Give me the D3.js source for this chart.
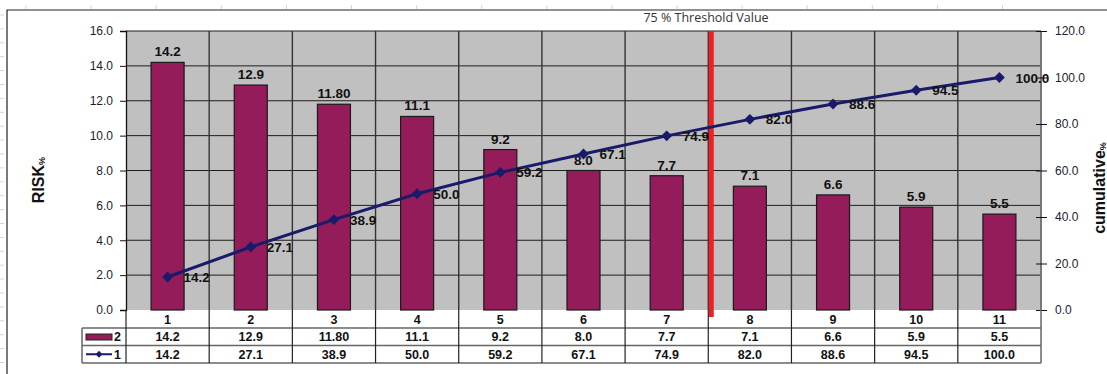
<!DOCTYPE html>
<html lang="en">
    <head>
        <meta charset="UTF-8">
        <script src="https://d3js.org/d3.v7.min.js"></script>
        <style>
            body { margin: 0; background: #fff; }
            text { font-family: "Liberation Sans", Arial, sans-serif; }
            .tick text { font-size: 12px; fill: #1c1c2e; }
            .lbl { font-size: 13.5px; font-weight: bold; fill: #111; }
            .cell { font-size: 12.5px; font-weight: bold; fill: #111; }
        </style>
    </head>
    <body>
        <svg width="1107" height="374"></svg>

        <script>
            // data
            const categories = ["1", "2", "3", "4", "5", "6", "7", "8", "9", "10", "11"];
            const riskValues = [14.2, 12.9, 11.8, 11.1, 9.2, 8.0, 7.7, 7.1, 6.6, 5.9, 5.5];
            const riskText = ["14.2", "12.9", "11.80", "11.1", "9.2", "8.0", "7.7", "7.1", "6.6", "5.9", "5.5"];
            const cumValues = [14.2, 27.1, 38.9, 50.0, 59.2, 67.1, 74.9, 82.0, 88.6, 94.5, 100.0];
            const leftTicks = [0, 2, 4, 6, 8, 10, 12, 14, 16];
            const rightTicks = [0, 20, 40, 60, 80, 100, 120];
            const thresholdAfter = "7";

            const plot = { left: 126, right: 1041, top: 31, bottom: 310 };
            const barColor = "#951c5b";
            const lineColor = "#1a1a6b";

            const svg = d3.select("svg");

            // faint ruler marks of the sheet
            svg.append("g").selectAll("line")
                .data(d3.range(16))
                .join("line")
                .attr("x1", d => 26 + d * 65.1).attr("x2", d => 26 + d * 65.1)
                .attr("y1", 5).attr("y2", 9)
                .attr("stroke", "#cdd5e0");
            svg.append("g").selectAll("line")
                .data(d3.range(27))
                .join("line")
                .attr("x1", 0).attr("x2", 4)
                .attr("y1", d => 15 + d * 13.9).attr("y2", d => 15 + d * 13.9)
                .attr("stroke", "#cdd5e0");

            // outer chart frame (only left + top visible)
            svg.append("path")
                .attr("d", "M7,374 V10 H1107")
                .attr("fill", "none")
                .attr("stroke", "#222")
                .attr("stroke-width", 1.2);

            const x = d3.scaleBand().domain(categories).range([plot.left, plot.right]);
            const yL = d3.scaleLinear().domain([0, 16]).range([plot.bottom, plot.top]);
            const yR = d3.scaleLinear().domain([0, 120]).range([plot.bottom, plot.top]);

            // plot background
            svg.append("rect")
                .attr("x", plot.left).attr("y", plot.top)
                .attr("width", plot.right - plot.left).attr("height", plot.bottom - plot.top)
                .attr("fill", "#c0c0c0");

            // gridlines
            svg.append("g").selectAll("line")
                .data(leftTicks.slice(1))
                .join("line")
                .attr("x1", plot.left).attr("x2", plot.right)
                .attr("y1", d => yL(d)).attr("y2", d => yL(d))
                .attr("stroke", "#1e1e1e").attr("stroke-width", 1);
            svg.append("g").selectAll("line")
                .data(categories.slice(1))
                .join("line")
                .attr("x1", d => x(d)).attr("x2", d => x(d))
                .attr("y1", plot.top).attr("y2", plot.bottom)
                .attr("stroke", "#333").attr("stroke-width", 1.4);

            // right border of the plot
            svg.append("line")
                .attr("x1", plot.right).attr("x2", plot.right)
                .attr("y1", plot.top).attr("y2", plot.bottom)
                .attr("stroke", "#777").attr("stroke-width", 2);

            // bars
            const bw = 33;
            svg.append("g").selectAll("rect")
                .data(riskValues)
                .join("rect")
                .attr("x", (d, i) => x(categories[i]) + x.bandwidth() / 2 - bw / 2)
                .attr("y", d => yL(d))
                .attr("width", bw)
                .attr("height", d => yL(0) - yL(d))
                .attr("fill", barColor)
                .attr("stroke", "#1a1a1a").attr("stroke-width", 1.2);

            svg.append("g").selectAll("text")
                .data(riskValues)
                .join("text")
                .attr("class", "lbl")
                .attr("x", (d, i) => x(categories[i]) + x.bandwidth() / 2)
                .attr("y", d => yL(d) - 6)
                .attr("text-anchor", "middle")
                .text((d, i) => riskText[i]);

            // threshold line
            const tx = x(thresholdAfter) + x.bandwidth() + 3;
            svg.append("line")
                .attr("x1", tx).attr("x2", tx)
                .attr("y1", plot.top).attr("y2", 317)
                .attr("stroke", "#ee2026").attr("stroke-width", 5);

            svg.append("text")
                .attr("x", 706).attr("y", 22)
                .attr("text-anchor", "middle")
                .style("font-family", "'Open Sans', sans-serif")
                .style("font-size", "12.5px")
                .attr("fill", "#333")
                .text("75 % Threshold Value");

            // cumulative line
            const cx = (d, i) => x(categories[i]) + x.bandwidth() / 2;
            svg.append("path")
                .datum(cumValues)
                .attr("d", d3.line().x(cx).y(d => yR(d)))
                .attr("fill", "none")
                .attr("stroke", lineColor)
                .attr("stroke-width", 3);
            svg.append("g").selectAll("path")
                .data(cumValues)
                .join("path")
                .attr("d", d3.symbol(d3.symbolDiamond2, 75))
                .attr("transform", (d, i) => `translate(${cx(d, i)},${yR(d)})`)
                .attr("fill", lineColor);
            svg.append("g").selectAll("text")
                .data(cumValues)
                .join("text")
                .attr("class", "lbl")
                .attr("x", (d, i) => cx(d, i) + 16)
                .attr("y", d => yR(d) + 5)
                .text(d => d.toFixed(1));

            // axes
            const axL = svg.append("g")
                .attr("transform", `translate(${plot.left},0)`)
                .call(d3.axisLeft(yL).tickValues(leftTicks).tickFormat(d3.format(".1f")).tickSize(6).tickPadding(7));
            axL.select(".domain").attr("stroke", "#111").attr("stroke-width", 1.3);
            axL.selectAll(".tick line").attr("stroke", "#111");
            axL.selectAll(".tick text").style("font-family", "'Liberation Sans', Arial, sans-serif");

            const axR = svg.append("g")
                .attr("transform", `translate(${plot.right},0)`)
                .call(d3.axisRight(yR).tickValues(rightTicks).tickFormat(d3.format(".1f")).tickSize(6).tickPadding(8));
            axR.select(".domain").remove();
            axR.selectAll(".tick line").attr("x1", -5).attr("x2", 6).attr("stroke", "#111");
            axR.selectAll(".tick text").style("font-family", "'Liberation Sans', Arial, sans-serif");

            // axis titles
            const tL = svg.append("text")
                .attr("transform", "translate(44,180) rotate(-90)")
                .attr("text-anchor", "middle")
                .style("font-size", "16px").style("font-weight", "bold")
                .attr("fill", "#111");
            tL.append("tspan").text("RISK");
            tL.append("tspan").style("font-size", "9px").attr("dy", 1).text("%");

            const tR = svg.append("text")
                .attr("transform", "translate(1105,188) rotate(-90)")
                .attr("text-anchor", "middle")
                .style("font-size", "16px").style("font-weight", "bold")
                .attr("fill", "#111");
            tR.append("tspan").text("cumulative");
            tR.append("tspan").style("font-size", "9px").attr("dy", 1).text("%");

            // data table under the plot
            const rows = [310, 328, 345.5, 363];
            const table = svg.append("g");
            const colEdges = categories.map(c => x(c)).concat([plot.right]);

            // cell text
            table.append("g").selectAll("text")
                .data(categories)
                .join("text")
                .attr("class", "cell")
                .attr("x", d => x(d) + x.bandwidth() / 2)
                .attr("y", (rows[0] + rows[1]) / 2 + 4.5)
                .attr("text-anchor", "middle")
                .text(d => d);
            table.append("g").selectAll("text")
                .data(riskText)
                .join("text")
                .attr("class", "cell")
                .attr("x", (d, i) => x(categories[i]) + x.bandwidth() / 2)
                .attr("y", (rows[1] + rows[2]) / 2 + 4.5)
                .attr("text-anchor", "middle")
                .text(d => d);
            table.append("g").selectAll("text")
                .data(cumValues)
                .join("text")
                .attr("class", "cell")
                .attr("x", (d, i) => x(categories[i]) + x.bandwidth() / 2)
                .attr("y", (rows[2] + rows[3]) / 2 + 4.5)
                .attr("text-anchor", "middle")
                .text(d => d.toFixed(1));

            // horizontal table rules
            [rows[1], rows[2], rows[3]].forEach(ry => {
                table.append("line")
                    .attr("x1", 82).attr("x2", plot.right).attr("y1", ry).attr("y2", ry)
                    .attr("stroke", "#666").attr("stroke-width", 1.5);
            });
            table.append("line")
                .attr("x1", 82).attr("x2", 82).attr("y1", rows[1]).attr("y2", rows[3])
                .attr("stroke", "#666").attr("stroke-width", 1.5);
            // vertical rules
            table.append("g").selectAll("line")
                .data(colEdges)
                .join("line")
                .attr("x1", d => d).attr("x2", d => d)
                .attr("y1", rows[0]).attr("y2", rows[3])
                .attr("stroke", (d, i) => i === colEdges.length - 1 ? "#666" : "#222")
                .attr("stroke-width", (d, i) => i === colEdges.length - 1 ? 1.5 : 1.2);

            // legend keys
            table.append("rect")
                .attr("x", 86).attr("y", rows[1] + 6).attr("width", 26).attr("height", 6)
                .attr("fill", barColor).attr("stroke", "#222").attr("stroke-width", 1);
            table.append("text").attr("class", "cell")
                .attr("x", 114).attr("y", (rows[1] + rows[2]) / 2 + 4.5).text("2");
            table.append("line")
                .attr("x1", 86).attr("x2", 112)
                .attr("y1", (rows[2] + rows[3]) / 2).attr("y2", (rows[2] + rows[3]) / 2)
                .attr("stroke", lineColor).attr("stroke-width", 2);
            table.append("path")
                .attr("d", d3.symbol(d3.symbolDiamond2, 30))
                .attr("transform", `translate(99,${(rows[2] + rows[3]) / 2})`)
                .attr("fill", lineColor);
            table.append("text").attr("class", "cell")
                .attr("x", 114).attr("y", (rows[2] + rows[3]) / 2 + 4.5).text("1");
        </script>
    </body>
</html>
